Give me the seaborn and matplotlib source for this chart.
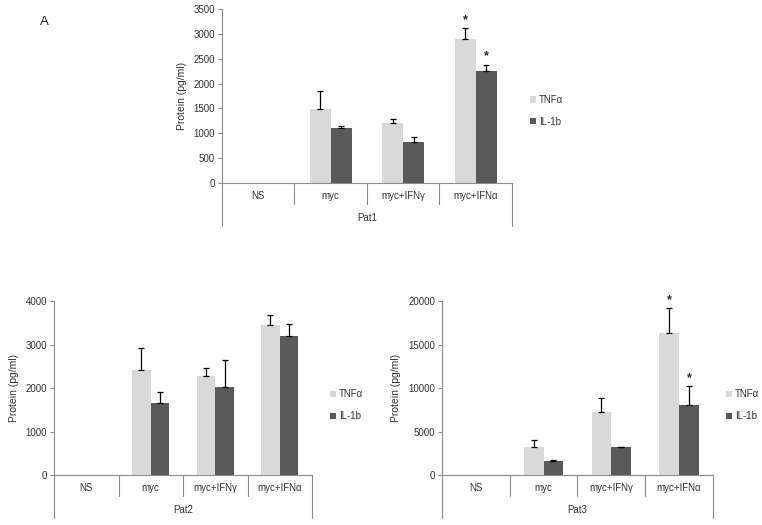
import matplotlib
matplotlib.use("Agg")
import matplotlib.pyplot as plt
import matplotlib.transforms as mtransforms
from matplotlib.patches import Patch
import seaborn as sns
import pandas as pd
import numpy as np

categories = ["NS", "myc", "myc+IFNγ", "myc+IFNα"]
cytokines = ["TNFα", "IL-1b"]

pat1_tnf = [0, 1490, 1200, 2890]
pat1_tnf_err = [0, 370, 90, 230]
pat1_il = [0, 1100, 830, 2250]
pat1_il_err = [0, 50, 100, 130]

pat2_tnf = [0, 2410, 2280, 3450]
pat2_tnf_err = [0, 520, 180, 220]
pat2_il = [0, 1650, 2020, 3190]
pat2_il_err = [0, 270, 630, 280]

pat3_tnf = [0, 3200, 7200, 16300]
pat3_tnf_err = [0, 800, 1600, 2900]
pat3_il = [0, 1600, 3200, 8000]
pat3_il_err = [0, 100, 50, 2200]

pat1_stars = [[False, False, False, True], [False, False, False, True]]
pat2_stars = [[False] * 4, [False] * 4]
pat3_stars = [[False, False, False, True], [False, False, False, True]]

panels = [
    ("Pat1", pat1_tnf, pat1_tnf_err, pat1_il, pat1_il_err, pat1_stars, [0, 500, 1000, 1500, 2000, 2500, 3000, 3500], 3500),
    ("Pat2", pat2_tnf, pat2_tnf_err, pat2_il, pat2_il_err, pat2_stars, [0, 1000, 2000, 3000, 4000], 4000),
    ("Pat3", pat3_tnf, pat3_tnf_err, pat3_il, pat3_il_err, pat3_stars, [0, 5000, 10000, 15000, 20000], 20000),
]

sns.set_theme(style="white")
plt.rcParams['font.family'] = ['Liberation Sans', 'DejaVu Sans']

colors = {"TNFα": "#d9d9d9", "IL-1b": "#595959"}
axis_col = "#8c8c8c"
text_col = "#333333"

fig = plt.figure(figsize=(7.62, 5.25), dpi=100)
axes_rects = [
    [0.2913, 0.6514, 0.3806, 0.3314],
    [0.0709, 0.0952, 0.3386, 0.3314],
    [0.5800, 0.0952, 0.3556, 0.3314],
]
legend_pos = [(0.696, 0.789), (0.433, 0.228), (0.953, 0.228)]

for (name, tnf, tnf_err, il, il_err, stars, yticks, ymax), rect, lpos in zip(panels, axes_rects, legend_pos):
    ax = fig.add_axes(rect)
    df = pd.DataFrame({
        "cond": categories * 2,
        "cytokine": [cytokines[0]] * 4 + [cytokines[1]] * 4,
        "value": list(tnf) + list(il),
    })
    sns.barplot(data=df, x="cond", y="value", hue="cytokine", order=categories,
                hue_order=cytokines, palette=colors, width=0.58, errorbar=None,
                ax=ax, legend=False, saturation=1, linewidth=0)
    errs = [tnf_err, il_err]
    bar_conts = list(ax.containers)[:2]
    for ci, cont in enumerate(bar_conts):
        for bi, bar in enumerate(cont.patches):
            xc = bar.get_x() + bar.get_width() / 2
            h = bar.get_height()
            e = errs[ci][bi]
            if h > 0 and e > 0:
                ax.errorbar([xc], [h], yerr=[[0], [e]], fmt="none", ecolor="black",
                            elinewidth=0.9, capsize=2.5, capthick=0.9, zorder=3)
            if stars[ci][bi]:
                ax.annotate("*", (xc, h + e), xytext=(0, 1.5), textcoords="offset points",
                            ha="center", va="bottom", fontsize=9, fontweight="bold")
    ax.set_ylim(0, ymax)
    ax.set_xlim(-0.5, 3.5)
    ax.set_yticks(yticks)
    ax.set_yticklabels([str(t) for t in yticks], fontsize=7, color=text_col)
    ax.set_ylabel("Protein (pg/ml)", fontsize=7.5, labelpad=5, color=text_col)
    ax.set_xlabel("")
    ax.set_xticks(range(4))
    ax.set_xticklabels(categories, fontsize=7, color=text_col)
    ax.tick_params(axis="x", length=0, pad=6)
    ax.tick_params(axis="y", length=3, width=0.8, color=axis_col, pad=2, left=True)
    for s in ["top", "right"]:
        ax.spines[s].set_visible(False)
    for s in ["left", "bottom"]:
        ax.spines[s].set_color(axis_col)
        ax.spines[s].set_linewidth(0.8)
    trans = mtransforms.blended_transform_factory(ax.transData, ax.transAxes)
    for xs in [0.5, 1.5, 2.5]:
        ax.plot([xs, xs], [0, -0.12], transform=trans, color=axis_col, lw=0.8, clip_on=False)
    for xs in [-0.5, 3.5]:
        ax.plot([xs, xs], [0, -0.245], transform=trans, color=axis_col, lw=0.8, clip_on=False)
    ax.text(1.5, -0.20, name, transform=trans, ha="center", va="center", fontsize=7, color=text_col)
    handles = [Patch(facecolor=colors[c], edgecolor="none") for c in cytokines]
    fig.legend(handles, cytokines, loc="center left", bbox_to_anchor=lpos,
               frameon=False, fontsize=7, handlelength=0.6, handleheight=0.6,
               handletextpad=0.3, labelspacing=1.2, borderaxespad=0, borderpad=0,
               labelcolor=text_col)

fig.text(0.052, 0.958, "A", fontsize=9.5, ha="left", va="center", color="#222222")

fig.savefig("out.png", dpi=100)
